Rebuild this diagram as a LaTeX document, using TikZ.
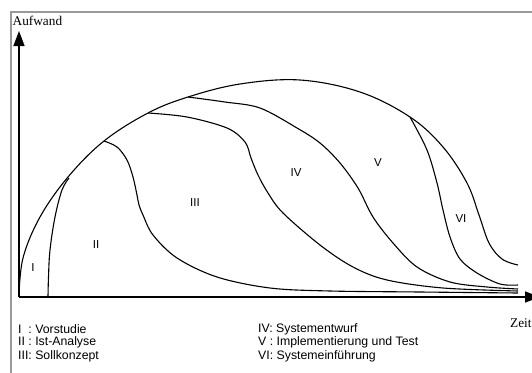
\documentclass[tikz,border=0pt]{standalone}
\usepackage{fontspec}
\setmainfont{Liberation Serif}
\newfontfamily\labelfont{Liberation Sans}
\usetikzlibrary{arrows.meta}
\begin{document}
\begin{tikzpicture}[x=1pt,y=-1pt,
  axis/.style={line width=1.4pt,-{Triangle[length=15pt,width=11pt]}},
  phase/.style={line width=1.1pt,line join=round},
  frameline/.style={draw=black!40,line width=1.1pt},
  phaselabel/.style={font=\labelfont\fontsize{11.5}{13}\selectfont,inner sep=0pt},
  legend/.style={font=\labelfont\fontsize{12.3}{13.5}\selectfont,anchor=west,inner sep=0pt},
  axislabel/.style={font=\fontsize{13.3}{15}\selectfont,anchor=west,inner sep=0pt}]
\useasboundingbox (0,0) rectangle (532,372);
% outer frame
\draw[frameline] (11,380) -- (11,12) -- (540,12);
% axes
\coordinate (O) at (19,297);
\coordinate (ytip) at (19,31);
\coordinate (xtip) at (540,297);
\draw[axis] (O) -- (ytip);
\draw[axis] (O) -- (xtip);
\node[axislabel] (aufwand) at (12.5,21) {Aufwand};
\node[axislabel] (zeit) at (510,323) {Zeit};
% total effort envelope
\draw[phase] plot[smooth,tension=0.6] coordinates {(19,297) (23,258) (40,217) (68,177) (104,141) (148,113) (188,97) (240,84) (300,80) (360,92) (410,117) (443,147) (467,183) (479,215) (489,243) (502,259) (518,265)};
% I / II
\draw[phase] plot[smooth,tension=0.6] coordinates {(48,297) (48.5,277) (50,250) (55,217) (62,190) (69,178)};
% II / III
\draw[phase] plot[smooth,tension=0.55] coordinates {(104,141) (117,147) (127,160) (133,177) (137,195) (139,205) (143,215) (153,235) (177,258) (217,277) (270,288) (330,291) (420,292) (518,293)};
% III / IV
\draw[phase] plot[smooth,tension=0.55] coordinates {(148,113) (187,117) (227,128) (245,142) (251,158) (258,175) (268,193) (283,213) (320,245) (353,267) (387,280) (443,288) (518,291)};
% IV / V
\draw[phase] plot[smooth,tension=0.55] coordinates {(188,97) (225,102) (260,108) (297,128) (320,143) (340,163) (358,188) (373,217) (393,243) (417,267) (450,282) (487,287) (518,289)};
% V / VI
\draw[phase] plot[smooth,tension=0.55] coordinates {(410,117) (427,150) (437,183) (443,210) (450,237) (460,259) (477,273) (500,284) (518,285)};
% phase labels
\node[phaselabel] (p1) at (33,268) {I};
\node[phaselabel] (p2) at (96,245) {II};
\node[phaselabel] (p3) at (195,203) {III};
\node[phaselabel] (p4) at (296,173) {IV};
\node[phaselabel] (p5) at (378,163) {V};
\node[phaselabel] (p6) at (461,219) {VI};
% legend
\node[legend] (l1) at (18,329) {I\ \ : Vorstudie};
\node[legend] (l2) at (18,342.5) {II : Ist-Analyse};
\node[legend] (l3) at (18,356) {III: Sollkonzept};
\node[legend] (l4) at (258,329) {IV: Systementwurf};
\node[legend] (l5) at (258,342.5) {V : Implementierung und Test};
\node[legend] (l6) at (258,356) {VI: Systemeinführung};
\end{tikzpicture}
\end{document}
